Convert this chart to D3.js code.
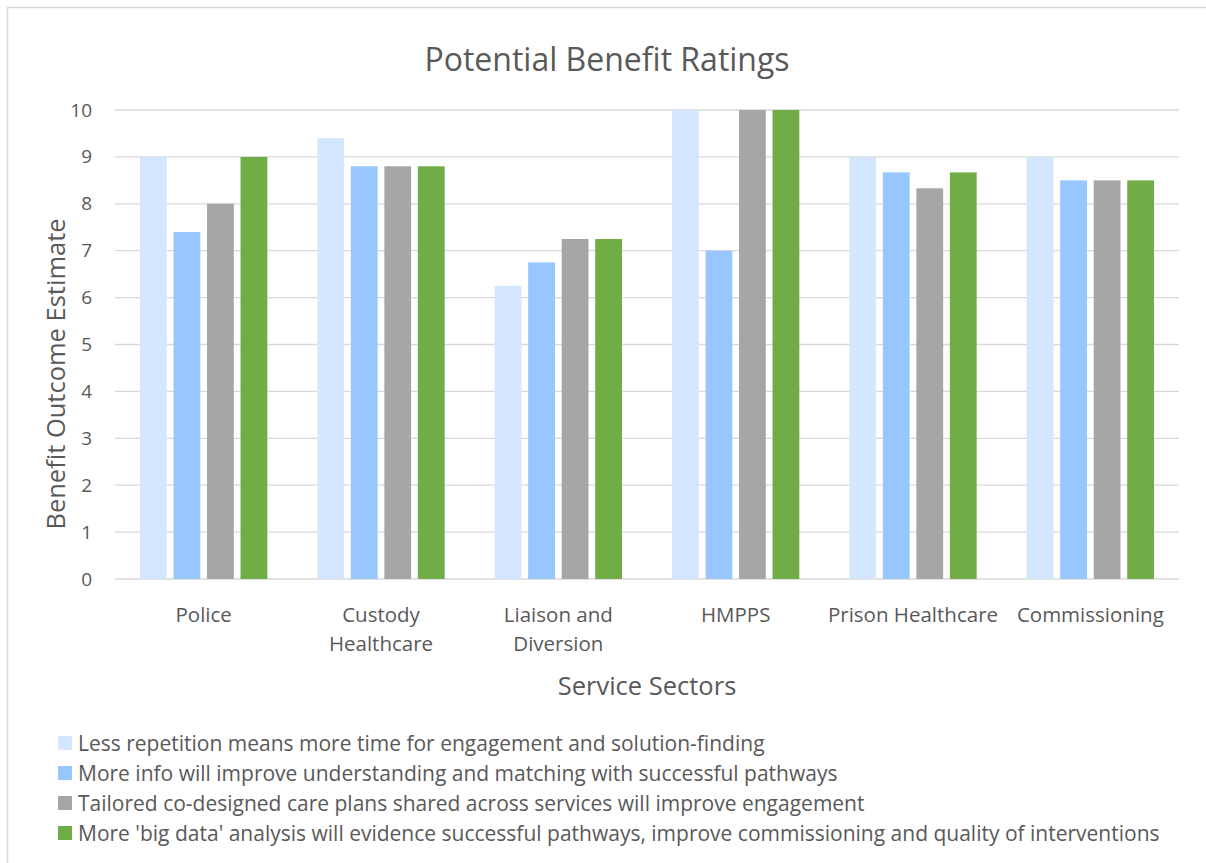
<!DOCTYPE html>
<html>
<head>
<meta charset="utf-8">
<script src="https://cdn.jsdelivr.net/npm/d3@7"></script>
<style>
  body { margin: 0; background: #fff; }
  svg text { font-family: "Open Sans", Lato, sans-serif; fill: #595959; }
</style>
</head>
<body>
<svg id="chart" width="1206" height="863"></svg>
<script>
// chart data
var sectors = ["Police", "Custody Healthcare", "Liaison and Diversion", "HMPPS", "Prison Healthcare", "Commissioning"];
var sectorLines = [["Police"], ["Custody", "Healthcare"], ["Liaison and", "Diversion"], ["HMPPS"], ["Prison Healthcare"], ["Commissioning"]];
var seriesNames = [
    "Less repetition means more time for engagement and solution-finding",
    "More info will improve understanding and matching with successful pathways",
    "Tailored co-designed care plans shared across services will improve engagement",
    "More 'big data' analysis will evidence successful pathways, improve commissioning and quality of interventions"
];
var lessRepetition = [9, 9.4, 6.25, 10, 9, 9];
var moreInfo = [7.4, 8.8, 6.75, 7, 8.67, 8.5];
var tailoredPlans = [8, 8.8, 7.25, 10, 8.33, 8.5];
var bigData = [9, 8.8, 7.25, 10, 8.67, 8.5];
var yTicks = [0, 1, 2, 3, 4, 5, 6, 7, 8, 9, 10];
var colors = ["#D5E7FE", "#98C6FE", "#A6A6A6", "#70AD47"];

var series = [lessRepetition, moreInfo, tailoredPlans, bigData];

var svg = d3.select("#chart");
var plot = { left: 115, right: 1179, top: 110, bottom: 579 };

// outer chart border
svg.append("rect")
    .attr("x", 7.5).attr("y", 7.5)
    .attr("width", 1210).attr("height", 870)
    .attr("fill", "none")
    .attr("stroke", "#D9D9D9")
    .attr("stroke-width", 1.5);

var x0 = d3.scaleBand()
    .domain(sectors)
    .range([plot.left, plot.right])
    .paddingInner(0)
    .paddingOuter(0);

var x1 = d3.scaleBand()
    .domain(d3.range(series.length))
    .range([25, x0.bandwidth() - 25])
    .paddingInner(0.2)
    .paddingOuter(0);

var y = d3.scaleLinear()
    .domain([0, 10])
    .range([plot.bottom, plot.top]);

// gridlines
svg.append("g")
    .selectAll("line")
    .data(yTicks)
    .enter()
    .append("line")
    .attr("x1", plot.left)
    .attr("x2", plot.right)
    .attr("y1", d => y(d))
    .attr("y2", d => y(d))
    .attr("stroke", "#D9D9D9")
    .attr("stroke-width", 1.3);

// y axis labels
var yAxis = d3.axisLeft(y).tickValues(yTicks).tickSize(0).tickPadding(0);
var yG = svg.append("g")
    .attr("transform", "translate(92,0)")
    .call(yAxis);
yG.select(".domain").remove();
yG.selectAll("text")
    .attr("font-size", 19)
    .attr("fill", "#595959")
    .style("font-family", "'Open Sans', sans-serif");

// bars
var groups = svg.append("g")
    .selectAll("g")
    .data(sectors)
    .enter()
    .append("g")
    .attr("transform", d => "translate(" + x0(d) + ",0)");

groups.selectAll("rect")
    .data((d, i) => series.map((s, j) => ({ j: j, v: s[i] })))
    .enter()
    .append("rect")
    .attr("x", d => x1(d.j))
    .attr("width", x1.bandwidth())
    .attr("y", d => y(d.v))
    .attr("height", d => y(0) - y(d.v))
    .attr("fill", d => colors[d.j]);

// category labels
var catG = svg.append("g")
    .selectAll("text")
    .data(sectors)
    .enter()
    .append("text")
    .attr("x", d => x0(d) + x0.bandwidth() / 2)
    .attr("y", 622)
    .attr("text-anchor", "middle")
    .attr("font-size", 20.5);
catG.each(function (d, i) {
    var t = d3.select(this);
    sectorLines[i].forEach(function (line, k) {
        t.append("tspan")
            .attr("x", x0(d) + x0.bandwidth() / 2)
            .attr("dy", k === 0 ? 0 : 29)
            .text(line);
    });
});

// titles
svg.append("text")
    .attr("x", 607)
    .attr("y", 71)
    .attr("text-anchor", "middle")
    .attr("font-size", 32)
    .text("Potential Benefit Ratings");

svg.append("text")
    .attr("x", 647)
    .attr("y", 695)
    .attr("text-anchor", "middle")
    .attr("font-size", 25.5)
    .text("Service Sectors");

svg.append("text")
    .attr("transform", "translate(65,374) rotate(-90)")
    .attr("text-anchor", "middle")
    .attr("font-size", 25.5)
    .text("Benefit Outcome Estimate");

// legend
var legend = svg.append("g")
    .selectAll("g")
    .data(seriesNames)
    .enter()
    .append("g")
    .attr("transform", (d, i) => "translate(58," + (743 + i * 30) + ")");

legend.append("rect")
    .attr("x", 0).attr("y", -7)
    .attr("width", 14).attr("height", 14)
    .attr("fill", (d, i) => colors[i]);

legend.append("text")
    .attr("x", 20)
    .attr("y", 7.5)
    .attr("font-size", 21)
    .text(d => d);
</script>
</body>
</html>
